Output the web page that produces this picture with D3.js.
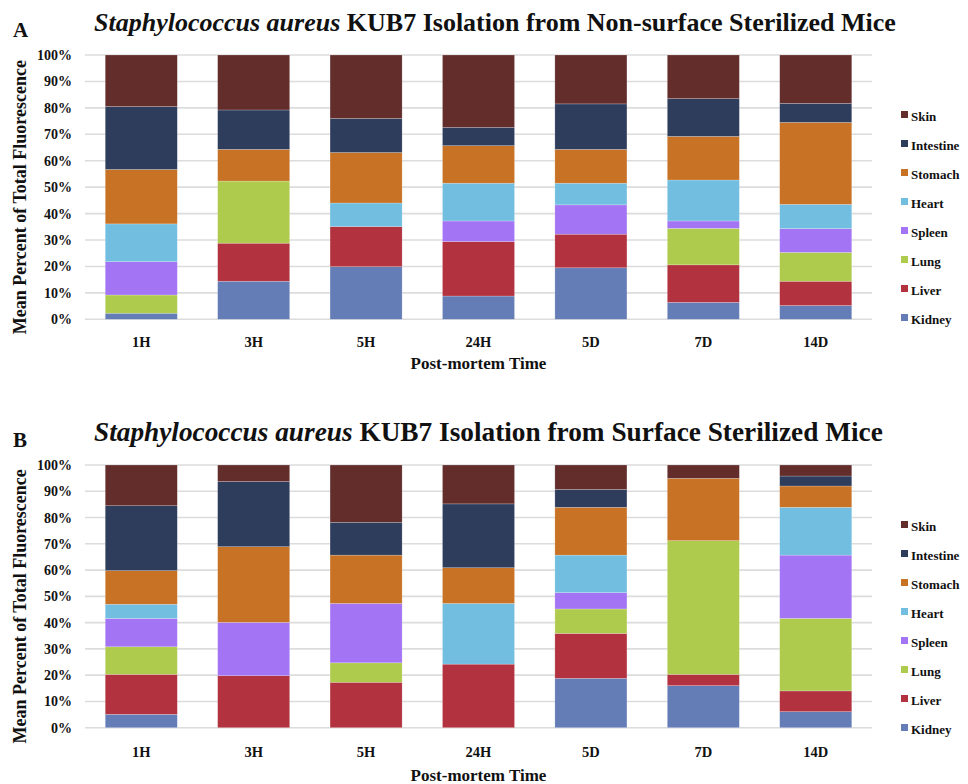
<!DOCTYPE html>
<html>
<head>
<meta charset="utf-8">
<script src="https://cdn.jsdelivr.net/npm/d3@7"></script>
<style>
  html, body { margin: 0; padding: 0; background: #fff; }
  svg { display: block; }
  text { font-family: "Liberation Serif", "Times New Roman", serif; font-weight: bold; fill: #111; }
</style>
</head>
<body>
<svg id="chart" width="968" height="784"></svg>
<script>
// Post-mortem sampling times
const categories = ["1H", "3H", "5H", "24H", "5D", "7D", "14D"];
// Organs, stacked from the bottom up
const organs = ["Kidney", "Liver", "Lung", "Spleen", "Heart", "Stomach", "Intestine", "Skin"];
const organColors = ["#657db7", "#b2333f", "#afcb4d", "#a374f3", "#71bee1", "#c77224", "#2f3d5c", "#622d2b"];
const yTicks = [0, 10, 20, 30, 40, 50, 60, 70, 80, 90, 100];

// Panel A: non-surface sterilized mice (mean % of total fluorescence)
const kidneyA    = [2.3, 14.4, 19.9, 8.8, 19.5, 6.4, 5.2];
const liverA     = [0.0, 14.4, 15.2, 20.6, 12.7, 14.2, 9.2];
const lungA      = [6.9, 23.5, 0.0, 0.0, 0.0, 13.8, 10.9];
const spleenA    = [12.6, 0.0, 0.0, 7.8, 11.1, 2.8, 9.0];
const heartA     = [14.3, 0.0, 8.9, 14.3, 8.2, 15.5, 9.2];
const stomachA   = [20.6, 12.0, 19.1, 14.2, 12.8, 16.5, 31.0];
const intestineA = [23.8, 14.9, 12.9, 6.9, 17.2, 14.3, 7.2];
const skinA      = [19.5, 20.8, 24.0, 27.4, 18.5, 16.5, 18.3];

// Panel B: surface sterilized mice
const kidneyB    = [5.1, 0.0, 0.0, 0.0, 18.8, 16.0, 6.1];
const liverB     = [15.2, 19.8, 17.3, 24.2, 17.1, 4.3, 7.9];
const lungB      = [10.5, 0.0, 7.4, 0.0, 9.3, 50.9, 27.6];
const spleenB    = [10.8, 20.3, 22.6, 0.0, 6.2, 0.0, 24.1];
const heartB     = [5.4, 0.0, 0.0, 23.1, 14.3, 0.0, 18.2];
const stomachB   = [12.8, 28.8, 18.4, 13.6, 18.2, 23.7, 8.1];
const intestineB = [24.7, 24.8, 12.5, 24.3, 6.8, 0.0, 3.8];
const skinB      = [15.5, 6.3, 21.8, 14.8, 9.3, 5.1, 4.2];

function toRows(series) {
  return categories.map((c, i) => {
    const row = { time: c };
    organs.forEach((o, k) => { row[o] = series[k][i]; });
    return row;
  });
}

const panels = [
  {
    letter: "A",
    species: "Staphylococcus aureus",
    rest: " KUB7 Isolation from Non-surface Sterilized Mice",
    rows: toRows([kidneyA, liverA, lungA, spleenA, heartA, stomachA, intestineA, skinA]),
    top: 55, bottom: 319.3, titleY: 31, titleSize: 26, xLabelY: 348, xTitleY: 369, legendTop: 117
  },
  {
    letter: "B",
    species: "Staphylococcus aureus",
    rest: " KUB7 Isolation from Surface Sterilized Mice",
    rows: toRows([kidneyB, liverB, lungB, spleenB, heartB, stomachB, intestineB, skinB]),
    top: 465, bottom: 727.7, titleY: 441, titleSize: 27.3, xLabelY: 758, xTitleY: 781, legendTop: 527
  }
];

const svg = d3.select("#chart");
const plotLeft = 85, plotRight = 872;

const x = d3.scaleBand()
  .domain(categories)
  .range([plotLeft, plotRight])
  .paddingInner(0.359)
  .paddingOuter(0.18);

const color = d3.scaleOrdinal().domain(organs).range(organColors);
const stack = d3.stack().keys(organs);

panels.forEach(p => {
  const g = svg.append("g");
  const y = d3.scaleLinear().domain([0, 100]).range([p.bottom, p.top]);

  // Panel letter and title
  g.append("text").attr("x", 13).attr("y", p.titleY + 6)
    .attr("font-size", 21).text(p.letter);
  const title = g.append("text").attr("x", 94).attr("y", p.titleY)
    .attr("font-size", p.titleSize);
  title.append("tspan").attr("font-style", "italic").text(p.species);
  title.append("tspan").text(p.rest);

  // Horizontal gridlines
  g.append("g").selectAll("line").data(yTicks).join("line")
    .attr("x1", plotLeft).attr("x2", plotRight)
    .attr("y1", d => y(d)).attr("y2", d => y(d))
    .attr("stroke", "#dcdcdc").attr("stroke-width", 1.6);

  // Y axis tick labels
  const yAxis = d3.axisLeft(y).tickValues(yTicks).tickFormat(d => d + "%").tickSize(0).tickPadding(0);
  const ya = g.append("g").attr("transform", "translate(72,0)").call(yAxis);
  ya.select(".domain").remove();
  ya.selectAll("text")
    .attr("font-size", 14)
    .attr("fill", "#111");

  // Y axis title
  g.append("text")
    .attr("transform", `translate(26,${(p.top + p.bottom) / 2 + 10}) rotate(-90)`)
    .attr("text-anchor", "middle")
    .attr("font-size", 18)
    .text("Mean Percent of Total Fluorescence");

  // Stacked bars
  const layers = stack(p.rows);
  g.append("g").selectAll("g").data(layers).join("g")
    .attr("fill", d => color(d.key))
    .selectAll("rect").data(d => d).join("rect")
    .attr("x", d => x(d.data.time))
    .attr("width", x.bandwidth())
    .attr("y", d => y(d[1]))
    .attr("height", d => y(d[0]) - y(d[1]))
    .attr("stroke", "#ffffff").attr("stroke-opacity", 0.35).attr("stroke-width", 0.6);

  // X axis labels
  const xAxis = d3.axisBottom(x).tickSize(0).tickPadding(0);
  const xa = g.append("g").attr("transform", `translate(0,${p.xLabelY - 11})`).call(xAxis);
  xa.select(".domain").remove();
  xa.selectAll("text")
    .attr("font-size", 14.5)
    .attr("fill", "#111");

  // X axis title
  g.append("text").attr("x", (plotLeft + plotRight) / 2).attr("y", p.xTitleY)
    .attr("text-anchor", "middle").attr("font-size", 17)
    .text("Post-mortem Time");

  // Legend, Skin on top
  const legendOrder = organs.slice().reverse();
  const lg = g.append("g").selectAll("g").data(legendOrder).join("g")
    .attr("transform", (d, i) => `translate(901,${p.legendTop + i * 29})`);
  lg.append("rect").attr("x", 0).attr("y", -6).attr("width", 7).attr("height", 7)
    .attr("fill", d => color(d));
  lg.append("text").attr("x", 10).attr("y", 4).attr("font-size", 13).text(d => d);
});
</script>
</body>
</html>
